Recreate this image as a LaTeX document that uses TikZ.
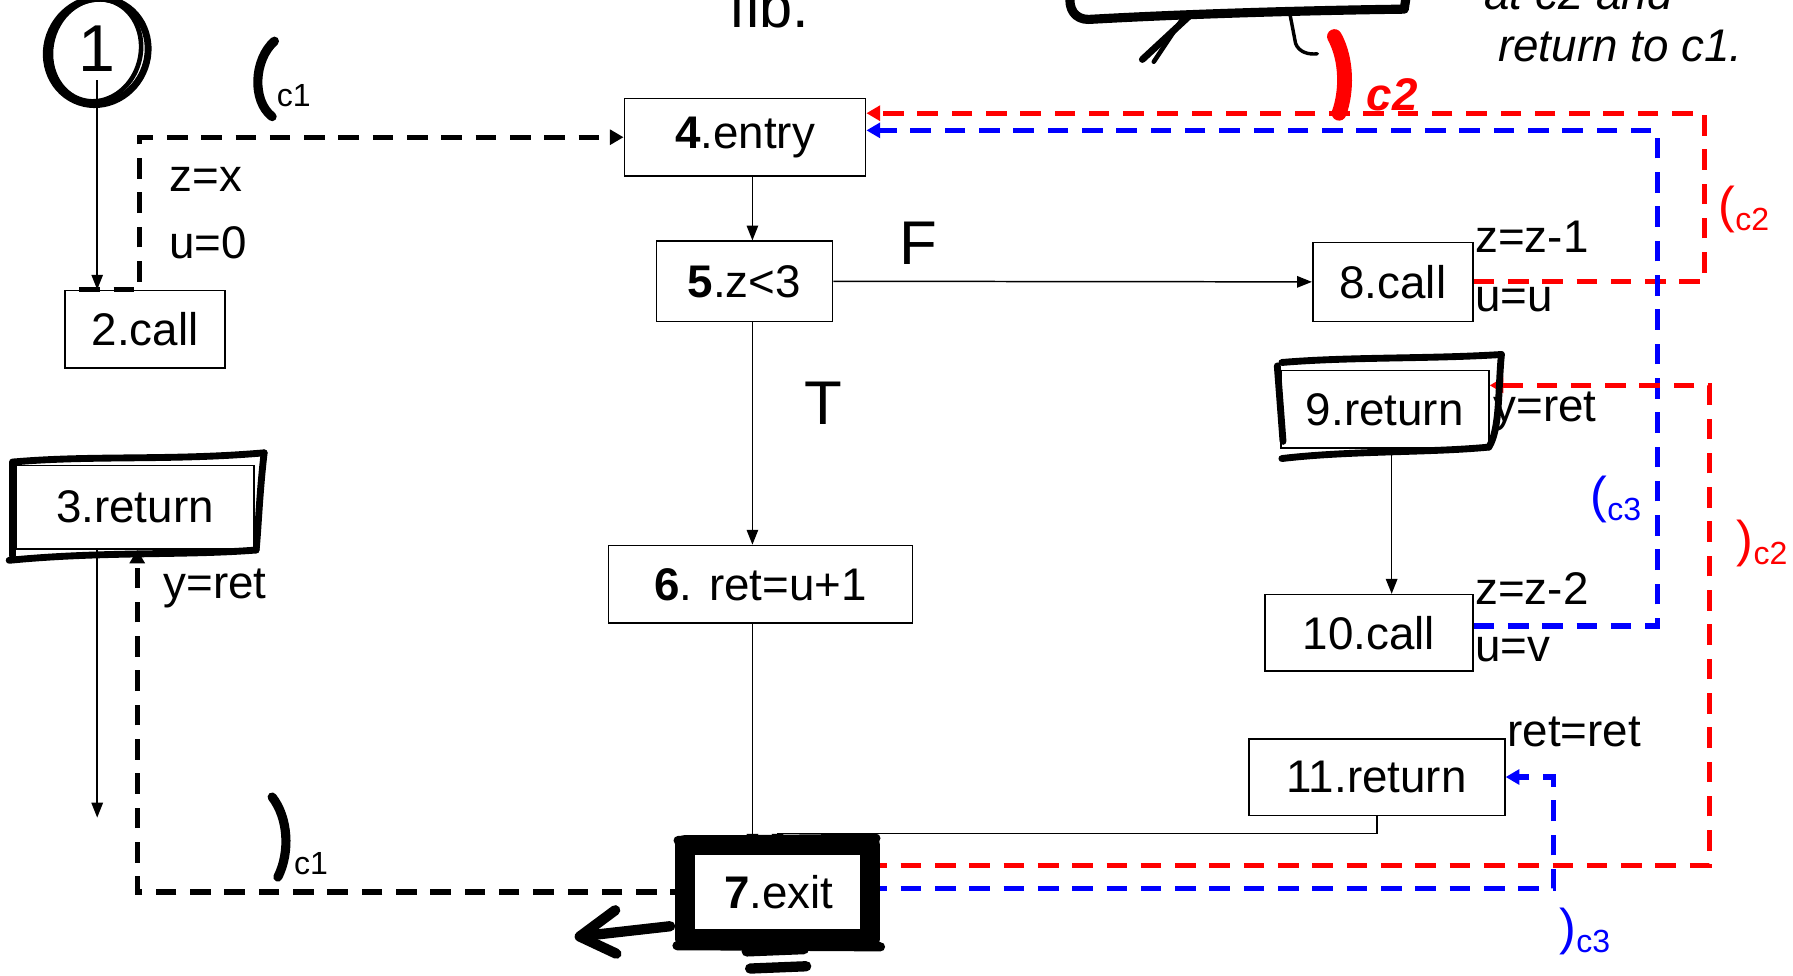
\documentclass[tikz,border=0pt]{standalone}
\usepackage{fontspec}
\setmainfont{Liberation Sans}
\usetikzlibrary{arrows.meta,calc}
\begin{document}
\begin{tikzpicture}[x=1pt,y=-1pt,
  every node/.style={inner sep=0pt},
  box/.style={draw,line width=1.4pt,font=\fontsize{40}{48}\selectfont},
  txt/.style={font=\fontsize{40}{48}\selectfont,anchor=west},
  big/.style={font=\fontsize{54}{60}\selectfont},
  flow/.style={line width=1.3pt,-{Triangle[length=13pt,width=10pt]}},
  link/.style={line width=4.5pt,dash pattern=on 18pt off 12pt,-{Triangle[length=12pt,width=13pt]}},
  hand/.style={line width=7pt,line cap=round,line join=round},
  paren/.style={font=\fontsize{44}{48}\selectfont},
  subl/.style={font=\fontsize{28}{30}\selectfont},
  script/.style={font=\fontsize{40}{46}\selectfont\itshape},
]
\useasboundingbox (0,0) rectangle (1568,853);

% ---------- blocks ----------
\node[box,minimum width=140pt,minimum height=68pt] (n2) at (127,288) {2.call};
\node[box,minimum width=208pt,minimum height=73pt] (n3) at (118,443.5) {3.return};
\node[box,minimum width=211pt,minimum height=68pt] (n4) at (651.5,120) {\textbf{4}.entry};
\node[box,minimum width=154pt,minimum height=70pt] (n5) at (651,246) {\textbf{5}.z<3};
\node[box,minimum width=266pt,minimum height=68pt] (n6) at (665,511) {\textbf{6}. ret=u+1};
\node[box,minimum width=152pt,minimum height=74pt] (n7) at (681,780) {\textbf{7}.exit};
\node[box,minimum width=140pt,minimum height=69pt] (n8) at (1218,246.5) {8.call};
\node[box,minimum width=182pt,minimum height=68pt] (n9) at (1211,358) {9.return};
\node[box,minimum width=182pt,minimum height=67pt] (n10) at (1197,553.5) {10.call};
\node[box,minimum width=224pt,minimum height=67pt] (n11) at (1204,679.5) {11.return};

\node[font=\fontsize{58}{64}\selectfont] (start) at (85,43) {1};
\node[anchor=base west,font=\fontsize{52}{60}\selectfont] (title) at (638,24) {fib.};

\coordinate (spine) at (658,0);
\coordinate (spine2) at (1217,0);
\coordinate (end3) at (85,715);

% ---------- intraprocedural edges ----------
\draw[flow] ([yshift=-7pt]start.south) -- (start.south |- n2.north);
\draw[flow] (n3.south -| end3) -- (end3);
\draw[flow] (n4.south -| spine) -- (n5.north -| spine);
\draw[flow] (n5.east) -- (n8.west);
\draw[flow] (n5.south -| spine) -- (n6.north -| spine);
\draw[flow] (n6.south -| spine) -- (n7.north -| spine);
\draw[flow] (n9.south -| spine2) -- (n10.north -| spine2);
\draw[flow] (n11.south) -- ++(0,15) -| ($(n7.north)+(-1,0)$);

% ---------- call / return edges ----------
\draw[link] ([xshift=13pt]n2.north west) -- ([xshift=66pt]n2.north west) |- (n4.west);
\draw[link] (n7.west) -| ($(n3.south)+(2,0)$);
\draw[link,red] (n8.east) -- ++(202,0) |- ($(n4.east)+(0,-21)$);
\draw[link,blue] ($(n10.east)+(0,-6)$) -- ++(161,0) |- ($(n4.east)+(0,-6)$);
\draw[link,red] ($(n7.east)+(0,-23)$) -- ++(737,0) |- ($(n9.east)+(0,-21)$);
\draw[link,blue] ($(n7.east)+(0,-3)$) -- ++(601,0) |- (n11.east);

% ---------- edge labels ----------
\node[txt] (l1) at (148,157) {z=x};
\node[txt] (l2) at (148,212) {u=0};
\node[txt] (l3) at (143,515) {y=ret};
\node[big] (lf) at (803,213) {F};
\node[big] (lt) at (720,353) {T};
\node[txt] (l4) at (1290,207) {z=z-1};
\node[txt] (l5) at (1290,262) {u=u};
\node[txt] (l6) at (1306,360) {y=ret};
\node[txt] (l7) at (1290,515) {z=z-2};
\node[txt] (l8) at (1290,568) {u=v};
\node[txt] (l9) at (1318,640) {ret=ret};

\node[paren,red] (p1) at (1525,183) {(\raisebox{-7pt}{\fontsize{28}{30}\selectfont c2}};
\node[paren,red] (p2) at (1541,475) {)\raisebox{-7pt}{\fontsize{28}{30}\selectfont c2}};
\node[paren,blue] (p3) at (1413,437) {(\raisebox{-7pt}{\fontsize{28}{30}\selectfont c3}};
\node[paren,blue] (p4) at (1386,815) {)\raisebox{-7pt}{\fontsize{28}{30}\selectfont c3}};
\node[subl] (s1) at (257,84) {c1};
\node[subl] (s2) at (272,755) {c1};

% ---------- pen strokes ----------
\draw[hand,line width=6pt,rotate around={-25:(85,45)}] (85,45) ellipse [x radius=44, y radius=47];
\draw[hand,line width=4pt,rotate around={-15:(84,44)}] (84,44) ellipse [x radius=39, y radius=45];
\draw[hand,line width=8pt] (240,36) .. controls (222,52) and (220,88) .. (238,102);
\draw[hand,line width=8pt] (238,697) .. controls (252,715) and (254,745) .. (243,767);

% 3.return frame
\draw[hand,line width=6pt] (12,404) .. controls (80,398) and (150,403) .. (231,396);
\draw[hand,line width=6pt] (11,404) -- (11,486);
\draw[hand,line width=6pt] (8,490) .. controls (90,482) and (160,486) .. (224,481);
\draw[hand,line width=6pt] (231,396) .. controls (227,430) and (226,460) .. (224,481);

% 9.return frame
\draw[hand,line width=6pt] (1121,317) .. controls (1180,312) and (1250,314) .. (1313,310);
\draw[hand,line width=6pt] (1117,320) -- (1122,386);
\draw[hand,line width=6pt] (1121,401) .. controls (1180,394) and (1250,396) .. (1302,391);
\draw[hand,line width=6pt] (1313,310) .. controls (1310,340) and (1312,375) .. (1302,391);

% 7.exit frame
\draw[line width=17pt,line join=round] (599,739) rectangle (761,821);
\draw[hand,line width=8pt] (593,735) -- (766,733);
\draw[hand,line width=8pt] (592,827) -- (770,828);
\draw[hand,line width=9pt] (653,832) -- (703,830);
\draw[hand,line width=9pt] (656,847) -- (705,845);
\draw[hand,line width=9pt] (586,810) -- (515,818);
\draw[hand,line width=9pt] (538,796) -- (507,819) -- (539,834);

% marks along the top edge
\draw[hand,line width=8pt] (936,-5) .. controls (934,8) and (940,17) .. (952,17) .. controls (1040,12) and (1150,9) .. (1228,8) -- (1230,-5);
\draw[hand,line width=6pt] (1040,14) -- (999,52);
\draw[hand,line width=4pt] (1033,18) -- (1009,54);
\draw[hand,line width=3pt] (1128,12) -- (1133,38) .. controls (1136,46) and (1145,48) .. (1152,47);
\draw[hand,red,line width=13pt] (1167,32) .. controls (1178,52) and (1178,80) .. (1171,99);
\node[red,anchor=base west,font=\fontsize{40}{46}\selectfont\itshape\bfseries] (hc2) at (1195,97) {c2};
\node[script,anchor=base west] (note1) at (1298,8) {at c2 and};
\node[script,anchor=base west] (note2) at (1310,54) {return to c1.};
\end{tikzpicture}
\end{document}
